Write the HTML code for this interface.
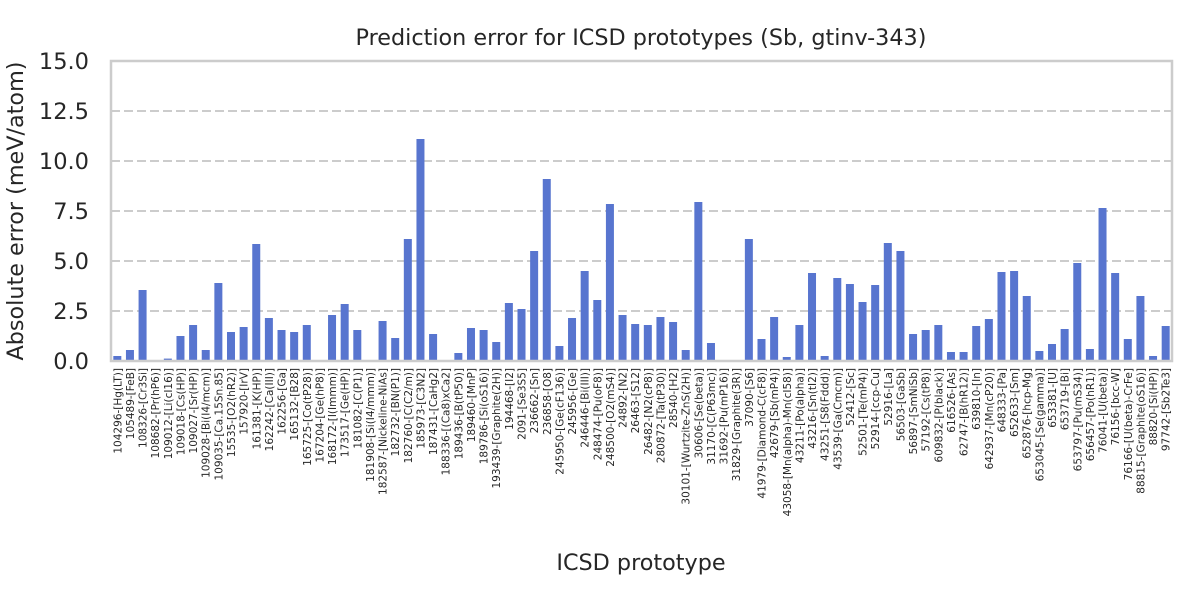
<!DOCTYPE html>
<html><head><meta charset="utf-8"><style>
body{margin:0;background:#fff;font-family:"DejaVu Sans","Liberation Sans",sans-serif;}
</style></head><body>
<svg id="chart" width="1200" height="600" xmlns="http://www.w3.org/2000/svg" style="font-family:'DejaVu Sans','Liberation Sans',sans-serif">
<rect width="1200" height="600" fill="#fff"/>
<text x="641" y="45" text-anchor="middle" font-size="22.3" fill="#262626">Prediction error for ICSD prototypes (Sb, gtinv-343)</text>
<text transform="translate(23,211) rotate(-90)" text-anchor="middle" font-size="22.3" fill="#262626">Absolute error (meV/atom)</text>
<text x="641" y="570" text-anchor="middle" font-size="22.3" fill="#262626">ICSD prototype</text>
<g id="grid"></g><g id="bars"></g><g id="yticks"></g><g id="xticks"></g>
<rect x="111" y="61" width="1061" height="300" fill="none" stroke="#cccccc" stroke-width="2.5"/>
</svg>
<script>
const categories=["104296-[Hg(LT)]","105489-[FeB]","108326-[Cr3Si]","108682-[Pr(hP6)]","109012-[Li(cI16)]","109018-[Cs(HP)]","109027-[Sr(HP)]","109028-[Bi(I4/mcm)]","109035-[Ca.15Sn.85]","15535-[O2(hR2)]","157920-[IrV]","161381-[K(HP)]","162242-[Ca(III)]","162256-[Ga]","165132-[B28]","165725-[Co(tP28)]","167204-[Ge(hP8)]","168172-[I(Immm)]","173517-[Ge(HP)]","181082-[C(P1)]","181908-[Si(I4/mmm)]","182587-[Nickeline-NiAs]","182732-[BN(P1)]","182760-[C(C2/m)]","185973-[C3N2]","187431-[CaHg2]","188336-[(Ca8)xCa2]","189436-[B(tP50)]","189460-[MnP]","189786-[Si(oS16)]","193439-[Graphite(2H)]","194468-[I2]","2091-[Se3S5]","236662-[Sn]","236858-[O8]","245950-[Ge(cF136)]","245956-[Ge]","246446-[Bi(III)]","248474-[Pu(oF8)]","248500-[O2(mS4)]","24892-[N2]","26463-[S12]","26482-[N2(cP8)]","280872-[Ta(tP30)]","28540-[H2]","30101-[Wurtzite-ZnS(2H)]","30606-[Se(beta)]","31170-[C(P63mc)]","31692-[Pu(mP16)]","31829-[Graphite(3R)]","37090-[S6]","41979-[Diamond-C(cF8)]","42679-[Sb(mP4)]","43058-[Mn(alpha)-Mn(cI58)]","43211-[Po(alpha)]","43216-[Sn(tI2)]","43251-[S8(Fddd)]","43539-[Ga(Cmcm)]","52412-[Sc]","52501-[Te(mP4)]","52914-[ccp-Cu]","52916-[La]","56503-[GaSb]","56897-[SmNiSb]","57192-[Cs(tP8)]","609832-[P(black)]","616526-[As]","62747-[B(hR12)]","639810-[In]","642937-[Mn(cP20)]","648333-[Pa]","652633-[Sm]","652876-[hcp-Mg]","653045-[Se(gamma)]","653381-[U]","653719-[Bi]","653797-[Pu(mS34)]","656457-[Po(hR1)]","76041-[U(beta)]","76156-[bcc-W]","76166-[U(beta)-CrFe]","88815-[Graphite(oS16)]","88820-[Si(HP)]","97742-[Sb2Te3]"];
const errors=[0.25,0.55,3.55,0,0.12,1.25,1.8,0.55,3.9,1.45,1.7,5.85,2.15,1.55,1.45,1.8,0,2.3,2.85,1.55,0,2.0,1.15,6.1,11.1,1.35,0,0.4,1.65,1.55,0.95,2.9,2.6,5.5,9.1,0.75,2.15,4.5,3.05,7.85,2.3,1.85,1.8,2.2,1.95,0.55,7.95,0.9,0,0,6.1,1.1,2.2,0.2,1.8,4.4,0.25,4.15,3.85,2.95,3.8,5.9,5.5,1.35,1.55,1.8,0.45,0.45,1.75,2.1,4.45,4.5,3.25,0.5,0.85,1.6,4.9,0.6,7.65,4.4,1.1,3.25,0.25,1.75];
const yTicks=[0,2.5,5,7.5,10,12.5,15];
const yTickLabels=["0.0","2.5","5.0","7.5","10.0","12.5","15.0"];
const NS="http://www.w3.org/2000/svg";
const X0=111,W=1061,Y0=361,H=300,YMAX=15;
const step=W/categories.length;
function xc(i){return X0+step*(i+0.5);}
function y(v){return Y0-v/YMAX*H;}
const grid=document.getElementById('grid'),bars=document.getElementById('bars'),yt=document.getElementById('yticks'),xt=document.getElementById('xticks');
yTicks.forEach((t,k)=>{
  if(t>0&&t<YMAX){const l=document.createElementNS(NS,'line');
  
  
  l.setAttribute('x1',X0);l.setAttribute('x2',X0+W);l.setAttribute('y1',y(t));l.setAttribute('y2',y(t));
  l.setAttribute('stroke','#cccccc');l.setAttribute('stroke-width','2');l.setAttribute('stroke-dasharray','9,4');grid.appendChild(l);}
  const tx=document.createElementNS(NS,'text');
  
  
  tx.setAttribute('x',X0-22);tx.setAttribute('y',y(t)+8);tx.setAttribute('text-anchor','end');tx.setAttribute('font-size','22.5');tx.setAttribute('fill','#262626');
  tx.textContent=yTickLabels[k];yt.appendChild(tx);
});
const bw=8;
categories.forEach((c,i)=>{
  const v=errors[i];
  const r=document.createElementNS(NS,'rect');
  
  
  r.setAttribute('x',xc(i)-bw/2);r.setAttribute('width',bw);r.setAttribute('y',y(v));r.setAttribute('height',Y0-y(v));
  r.setAttribute('fill','#5875cf');bars.appendChild(r);
  const t=document.createElementNS(NS,'text');
  
  
  t.setAttribute('transform','translate('+(xc(i)+4)+',368) rotate(-90)');
  t.setAttribute('text-anchor','end');t.setAttribute('font-size','10.5');t.setAttribute('fill','#262626');
  t.textContent=c;xt.appendChild(t);
});
</script>
</body></html>
